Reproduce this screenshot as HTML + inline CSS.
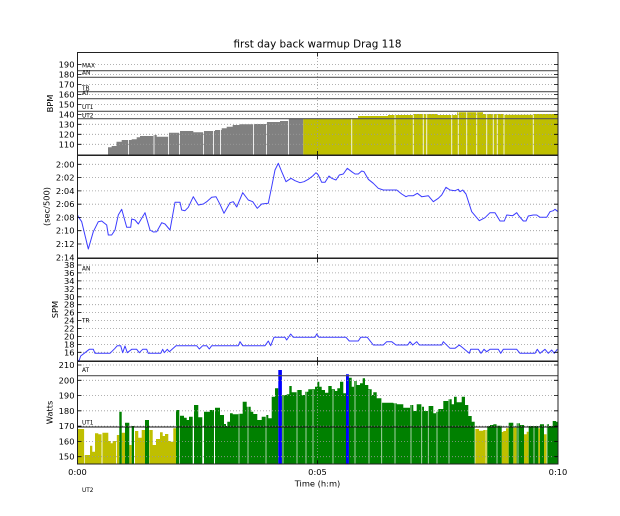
<!DOCTYPE html>
<html><head><meta charset="utf-8"><style>
html,body{margin:0;padding:0;background:#fff;}
svg{display:block;}
text{font-family:"DejaVu Sans","Liberation Sans",sans-serif;fill:#000;}
.t{font-size:8.3px;}
.z{font-size:5.8px;}
</style></head><body>
<svg width="620" height="516" viewBox="0 0 620 516" xmlns="http://www.w3.org/2000/svg">
<rect width="620" height="516" fill="#fff"/>
<text x="317.5" y="47.3" text-anchor="middle" style="font-size:10.4px">first day back warmup Drag 118</text>

<!-- ===== Panel 1: BPM ===== -->
<path d="M108,155 V147.3 H111.7 V146 H116.5 V141.7 H121.7 V140 H131.7 V139.3 H136.7 V137.3 H140 V136 H153.3 V135 H156.7 V136.7 H169 V132.7 H180 V131 H193.3 V132.3 H204 V131 H215 V130 H221.7 V128.3 H226.7 V126.7 H232.7 V125 H240 V124.3 H253.3 V124 H266.7 V122 H280 V121 H288.3 V118.7 H303.3 V155 Z" fill="#808080"/>
<path d="M303.3,155 V119 H343 V118.3 H358 V116 H388 V115 H413 V114 H437 V115 H457 V112.3 H483 V114 H503 V114.7 H533 V114 H558 V155 Z" fill="#bfbf00"/>
<g stroke="#fff" stroke-width="1" opacity="0.85">
<path d="M128.5,110 V155 M154,110 V155 M168.5,110 V155 M179.5,110 V155 M203.5,110 V155 M213.5,110 V155 M220.5,110 V155 M253.5,110 V155 M266.5,110 V155 M288.5,110 V155 M351.7,110 V155 M395,110 V155 M413.3,110 V155 M423.3,110 V155 M426.7,110 V155 M451.7,110 V155 M458.3,110 V155 M466.7,110 V155 M476.7,110 V155 M486.7,110 V155 M493.3,110 V155 M497.3,110 V155 M504,110 V155 M533.3,110 V155"/>
</g>
<g stroke="#999" stroke-width="0.8" stroke-dasharray="1 2">
<path d="M77,64.5 H558 M77,74.5 H558 M77,84.4 H558 M77,94.4 H558 M77,104.4 H558 M77,114.4 H558 M77,124.3 H558 M77,134.3 H558 M77,144.3 H558 M317.5,52 V155"/>
</g>
<g stroke="#555" stroke-width="1.2">
<path d="M77,70.7 H558 M77,77.3 H558 M77,91.7 H558 M77,98.7 H558 M77,111.3 H558 M77,118.7 H558"/>
</g>
<text class="z" x="82" y="67.7">MAX</text>
<text class="z" x="82" y="74.5">AN</text>
<text class="z" x="82" y="90">TR</text>
<text class="z" x="82" y="95">AT</text>
<text class="z" x="82" y="109">UT1</text>
<text class="z" x="82" y="117.5">UT2</text>
<g class="t" text-anchor="end">
<text x="74.5" y="67.5">190</text><text x="74.5" y="77.5">180</text><text x="74.5" y="87.4">170</text>
<text x="74.5" y="97.4">160</text><text x="74.5" y="107.4">150</text><text x="74.5" y="117.4">140</text>
<text x="74.5" y="127.3">130</text><text x="74.5" y="137.3">120</text><text x="74.5" y="147.3">110</text>
</g>
<text class="t" transform="translate(53,103.5) rotate(-90)" text-anchor="middle">BPM</text>

<!-- ===== Panel 2: Pace ===== -->
<g stroke="#999" stroke-width="0.8" stroke-dasharray="1 2">
<path d="M77,164.3 H558 M77,177.6 H558 M77,190.9 H558 M77,204.2 H558 M77,217.4 H558 M77,230.7 H558 M77,244 H558 M317.5,155 V258"/>
</g>
<polyline fill="none" stroke="#3c3cff" stroke-width="1" stroke-linejoin="round" points="77.5,215 78.3,216.7 81.7,221.7 88.3,249 93.3,231.7 98.3,221.7 101.7,221 106.7,225 108.3,235 111.7,235 115,230 118.3,215 121.7,209.3 126.7,227.3 130.7,227.3 131.7,219 135,220 138.3,224 145,212.7 150,230 153.3,232 156.7,231.7 161.7,222.7 165,224 170,230 175,202.3 180,202.3 181.7,210 185,210.7 188.3,207.3 193.3,196.7 198.3,205 203.3,204 206.7,201.7 211.7,197.3 216,196.7 220,204.3 224,213.3 230,202.7 233.3,201.7 236.7,207 242.7,192.7 248.3,200 252.7,201.7 257.3,208.3 261.7,204 268.3,203.3 271.7,186.7 275,170 278.3,163.3 281.7,171.7 286,181.7 291,178.3 295,180.7 300,182.7 304,181.7 308.3,179.3 312.7,176 316,172.7 318.3,175 321.7,182.3 325,182.3 329,176 331.7,178.3 336,180 339.3,175 343.3,174 347.3,168.3 351.7,171.7 355,174 358.3,174 361.7,171 364,171.7 368.3,179.3 373.3,183.3 378.3,188.3 383.3,190 396.7,190 401.7,194 406,196.7 408.3,195.7 413.3,195.7 417.3,193.3 421.7,196.7 428.3,195.7 433.3,201.7 438.3,198.3 441.7,195 446,187.3 450,190 455,190.7 458.3,189.3 460,191.7 462.7,190 466,194 471.7,211.7 479.3,220.7 485,217.7 490,212.7 495,212.7 500,221 504.3,221 506.7,215 512.7,215.7 516.7,212.7 519,216 523.3,221 526,221 528.3,216 533.3,215 536.7,215 540,217.3 546.7,217.3 550,211.7 553.3,210.7 555,209.3 558,211.7"/>
<g class="t" text-anchor="end">
<text x="74.5" y="167.3">2:00</text><text x="74.5" y="180.6">2:02</text><text x="74.5" y="193.9">2:04</text>
<text x="74.5" y="207.2">2:06</text><text x="74.5" y="220.4">2:08</text><text x="74.5" y="233.7">2:10</text>
<text x="74.5" y="247">2:12</text><text x="74.5" y="260.3">2:14</text>
</g>
<text class="t" transform="translate(49.5,206.5) rotate(-90)" text-anchor="middle">(sec/500)</text>

<!-- ===== Panel 3: SPM ===== -->
<g stroke="#999" stroke-width="0.8" stroke-dasharray="1 2">
<path d="M77,265 H558 M77,272.9 H558 M77,280.9 H558 M77,288.8 H558 M77,296.8 H558 M77,304.7 H558 M77,312.6 H558 M77,320.6 H558 M77,328.5 H558 M77,336.5 H558 M77,344.4 H558 M77,352.3 H558 M317.5,258 V361"/>
</g>
<text class="z" x="82" y="270.7">AN</text>
<text class="z" x="82" y="322.7">TR</text>
<polyline fill="none" stroke="#3c3cff" stroke-width="1" stroke-linejoin="round" points="77.5,361 79.3,360 80.7,356 85,352.7 89.3,349.3 93.3,349.3 95,353.3 110,353.3 115,348.3 117.3,345.7 120.7,345.7 122.7,352.7 125,346 127.3,352.7 131.7,349.3 136.7,349.3 139.3,352.7 142.7,349.3 146.7,349.3 148.3,353.3 160.7,353.3 162.7,349.3 164.3,352.7 167.3,349.3 169.3,351.7 176,345.7 196.7,345.7 199.3,349 202.7,345.7 206.7,345.7 209.3,349 211.7,345.7 238.3,345.7 240,341.7 242.7,345.7 265,345.7 268.3,341 270.7,345.7 274,337.3 285,337.3 286.7,340 290.7,334 293.3,337.3 315,337.3 316.7,334 319,337.3 346,337.3 349.3,341 358.3,341 360.7,337.3 367.3,337.3 373.3,345 383.3,345 386.7,341.7 391.7,341.7 396,345 407.7,345 410,341.7 412.7,345 416.7,341.7 419.3,345 441.7,345 443.3,341.7 450,348.3 455,348.3 459.3,345 463.3,348.3 469.3,353.3 470.7,349.3 478.3,349.3 481,353.3 484,349.3 486.7,351.7 490,349.3 498.3,349.3 500.7,353.3 503.3,349.3 516.7,349.3 520,353.3 535,353.3 537.3,349.3 540,353.3 545,349.3 548.3,353.3 551.7,350 554.3,353.3 557.3,349.3"/>
<g class="t" text-anchor="end">
<text x="74.5" y="268">38</text><text x="74.5" y="275.9">36</text><text x="74.5" y="283.9">34</text>
<text x="74.5" y="291.8">32</text><text x="74.5" y="299.8">30</text><text x="74.5" y="307.7">28</text>
<text x="74.5" y="315.6">26</text><text x="74.5" y="323.6">24</text><text x="74.5" y="331.5">22</text>
<text x="74.5" y="339.5">20</text><text x="74.5" y="347.4">18</text><text x="74.5" y="355.3">16</text>
</g>
<text class="t" transform="translate(58,309.5) rotate(-90)" text-anchor="middle">SPM</text>

<!-- ===== Panel 4: Watts ===== -->
<path fill="#bfbf00" d="M77.7,464V429H84.3V464Z M84.3,464V455H90V464Z M90,464V445.7H92.3V464Z M92.3,464V451.7H95V464Z M95,464V433.3H98.3V464Z M98.3,464V434.3H101.7V464Z M102.3,464V432.7H108.3V464Z M108.3,464V441H110.7V464Z M110.7,464V443.3H112.7V464Z M112.7,464V441H116V464Z M116.7,464V435H119.3V464Z M121.7,464V432.7H125V464Z M129.3,464V445H131.7V464Z M135,464V431H138.3V464Z M138.3,464V437.7H141.7V464Z M141.7,464V430H145V464Z M149.3,464V430H152.7V464Z M152.7,464V445H156V464Z M156,464V439H160V464Z M160,464V432.3H162.7V464Z M162.7,464V436H165V464Z M165,464V434H168.3V464Z M168.3,464V441H170V464Z M170,464V441.7H173.3V464Z M173.3,464V428.3H176V464Z M475,464V429H479V464Z M479,464V430.7H483.3V464Z M483.3,464V430H487.3V464Z M501.7,464V432H503.3V464Z M503.3,464V431H506V464Z M506,464V428.3H508.7V464Z M513.3,464V427.7H516.7V464Z M524,464V434.3H526.7V464Z M526.7,464V431.7H528.7V464Z M538.3,464V428.3H540V464Z M544,464V434.3H546.7V464Z"/>
<path fill="#008000" d="M119.3,464V411.7H121.7V464Z M125,464V422.7H129.3V464Z M131.7,464V426H134V464Z M145,464V420H149V464Z M176,464V410H179.3V464Z M180,464V415.7H184V464Z M184,464V417.7H186.7V464Z M186.7,464V420H189V464Z M189,464V416.7H192.7V464Z M194,464V405H198.3V464Z M198.3,464V417.3H202.3V464Z M204,464V411.7H210V464Z M210,464V410H214V464Z M215,464V407.7H220V464Z M220,464V415H224V464Z M224,464V424H226V464Z M226,464V426H227.3V464Z M227.3,464V421.7H230V464Z M230,464V413.3H232.7V464Z M232.7,464V414.3H238.3V464Z M238.3,464V413.7H242.7V464Z M242.7,464V401.7H246.7V464Z M246.7,464V406.7H250.7V464Z M250.7,464V411.7H253.3V464Z M253.3,464V414H257.3V464Z M257.3,464V420H261.7V464Z M261.7,464V416.7H266V464Z M266,464V415H268.3V464Z M268.3,464V418.3H271.7V464Z M271.7,464V396.7H275V464Z M275,464V388.3H278.3V464Z M281.7,464V395H286.7V464Z M286.7,464V394.3H289.3V464Z M289.3,464V386H291.7V464Z M291.7,464V392.3H296.7V464Z M296.7,464V390H301.7V464Z M301.7,464V395H305V464Z M305,464V391.7H308.3V464Z M308.3,464V389.3H315V464Z M315,464V386.7H317.3V464Z M317.3,464V381.7H319.3V464Z M319.3,464V386.7H321.7V464Z M321.7,464V390H325V464Z M325,464V392.7H328.3V464Z M328.3,464V386H331.7V464Z M331.7,464V389.3H335V464Z M335,464V391H337.3V464Z M337.3,464V388.3H340V464Z M340,464V381.7H343.3V464Z M343.3,464V393.3H346V464Z M348.7,464V377.7H351.7V464Z M351.7,464V386.7H354V464Z M354,464V381H356.7V464Z M356.7,464V385H360V464Z M360,464V383.3H362.7V464Z M362.7,464V378.3H365V464Z M365,464V385H368.3V464Z M368.3,464V389.3H371.7V464Z M371.7,464V395H373.3V464Z M373.3,464V392.3H376.7V464Z M376.7,464V398.3H381.7V464Z M381.7,464V402.7H393.3V464Z M393.3,464V403.3H396.7V464Z M396.7,464V404.3H403.3V464Z M403.3,464V407.7H410V464Z M410,464V405H413.3V464Z M413.3,464V411H416.7V464Z M416.7,464V404.3H421.7V464Z M421.7,464V406.7H424V464Z M424,464V411H428.3V464Z M428.3,464V406H433.3V464Z M433.3,464V413.3H436V464Z M436,464V411.7H438.3V464Z M438.3,464V409H443.3V464Z M443.3,464V401H448.3V464Z M448.3,464V399.3H451.7V464Z M451.7,464V404.3H454V464Z M454,464V396.7H456.7V464Z M456.7,464V402.3H461.7V464Z M461.7,464V396.7H465V464Z M465,464V405H468.3V464Z M468.3,464V416H471.7V464Z M471.7,464V421.7H475V464Z M487.3,464V426H490V464Z M490,464V425H493.3V464Z M493.3,464V424.3H496.7V464Z M496.7,464V425.7H501.7V464Z M508.7,464V422.7H513.3V464Z M516.7,464V423.3H520V464Z M520,464V425H524V464Z M528.7,464V426H538.3V464Z M540,464V424.3H544V464Z M546.7,464V424.3H549V464Z M549,464V426H552.7V464Z M552.7,464V421H556V464Z M556,464V421.7H558V464Z"/>
<path fill="#0000ff" d="M278.3,464V370H281.9V464Z M346,464V374.3H348.9V464Z"/>
<g stroke="#fff" stroke-width="0.8" opacity="0.8">
<path d="M84.5,420V464 M102,420V464 M116.4,420V464 M203.1,400V464 M214.5,400V464 M239,400V464 M248,400V464 M266,400V464 M283,390V464 M297,390V464 M306,390V464 M313,390V464 M333,390V464 M355,380V464 M369,390V464 M381.7,398V464 M395,402V464 M411,404V464 M421.7,404V464 M428.3,404V464 M437,410V464 M449,398V464 M475,420V464 M486,420V464 M497,420V464 M518,420V464 M534,420V464 M547,420V464"/>
</g>
<g stroke="#999" stroke-width="0.8" stroke-dasharray="1 2">
<path d="M77,365 H558 M77,380.3 H558 M77,395.6 H558 M77,410.8 H558 M77,426.1 H558 M77,441.4 H558 M77,456.7 H558 M317.5,361 V464"/>
</g>
<path d="M77,375.7 H558" stroke="#555" stroke-width="1.2"/>
<path d="M77,427 H558" stroke="#111" stroke-width="1"/>
<text class="z" x="82" y="372">AT</text>
<text class="z" x="82" y="424.5">UT1</text>
<text class="z" x="82" y="492">UT2</text>
<g class="t" text-anchor="end">
<text x="74.5" y="368">210</text><text x="74.5" y="383.3">200</text><text x="74.5" y="398.6">190</text>
<text x="74.5" y="413.8">180</text><text x="74.5" y="429.1">170</text><text x="74.5" y="444.4">160</text>
<text x="74.5" y="459.7">150</text>
</g>
<text class="t" transform="translate(52.5,412.5) rotate(-90)" text-anchor="middle">Watts</text>

<!-- frames -->
<g fill="none" stroke="#222" stroke-width="1">
<rect x="77.5" y="52.5" width="480.5" height="102.5"/>
<rect x="77.5" y="155.5" width="480.5" height="102.5"/>
<rect x="77.5" y="258.5" width="480.5" height="102.5"/>
<rect x="77.5" y="361.5" width="480.5" height="102.5"/>
</g>
<!-- tick marks -->
<g stroke="#000" stroke-width="0.8">
<path d="M77.5,64.5h4M77.5,74.5h4M77.5,84.4h4M77.5,94.4h4M77.5,104.4h4M77.5,114.4h4M77.5,124.3h4M77.5,134.3h4M77.5,144.3h4
M558,64.5h-4M558,74.5h-4M558,84.4h-4M558,94.4h-4M558,104.4h-4M558,114.4h-4M558,124.3h-4M558,134.3h-4M558,144.3h-4
M77.5,164.3h4M77.5,177.6h4M77.5,190.9h4M77.5,204.2h4M77.5,217.4h4M77.5,230.7h4M77.5,244h4
M558,164.3h-4M558,177.6h-4M558,190.9h-4M558,204.2h-4M558,217.4h-4M558,230.7h-4M558,244h-4
M77.5,265h4M77.5,272.9h4M77.5,280.9h4M77.5,288.8h4M77.5,296.8h4M77.5,304.7h4M77.5,312.6h4M77.5,320.6h4M77.5,328.5h4M77.5,336.5h4M77.5,344.4h4M77.5,352.3h4
M558,265h-4M558,272.9h-4M558,280.9h-4M558,288.8h-4M558,296.8h-4M558,304.7h-4M558,312.6h-4M558,320.6h-4M558,328.5h-4M558,336.5h-4M558,344.4h-4M558,352.3h-4
M77.5,365h4M77.5,380.3h4M77.5,395.6h4M77.5,410.8h4M77.5,426.1h4M77.5,441.4h4M77.5,456.7h4
M558,365h-4M558,380.3h-4M558,395.6h-4M558,410.8h-4M558,426.1h-4M558,441.4h-4M558,456.7h-4
M317.5,52.5v4M317.5,155v-4M317.5,155.5v4M317.5,258v-4M317.5,258.5v4M317.5,361v-4M317.5,361.5v4M317.5,464v-4"/>
</g>
<!-- x labels -->
<g class="t" text-anchor="middle">
<text x="77.5" y="475">0:00</text>
<text x="317.5" y="475">0:05</text>
<text x="558" y="475">0:10</text>
<text x="317.5" y="486.5">Time (h:m)</text>
</g>
</svg>
</body></html>
